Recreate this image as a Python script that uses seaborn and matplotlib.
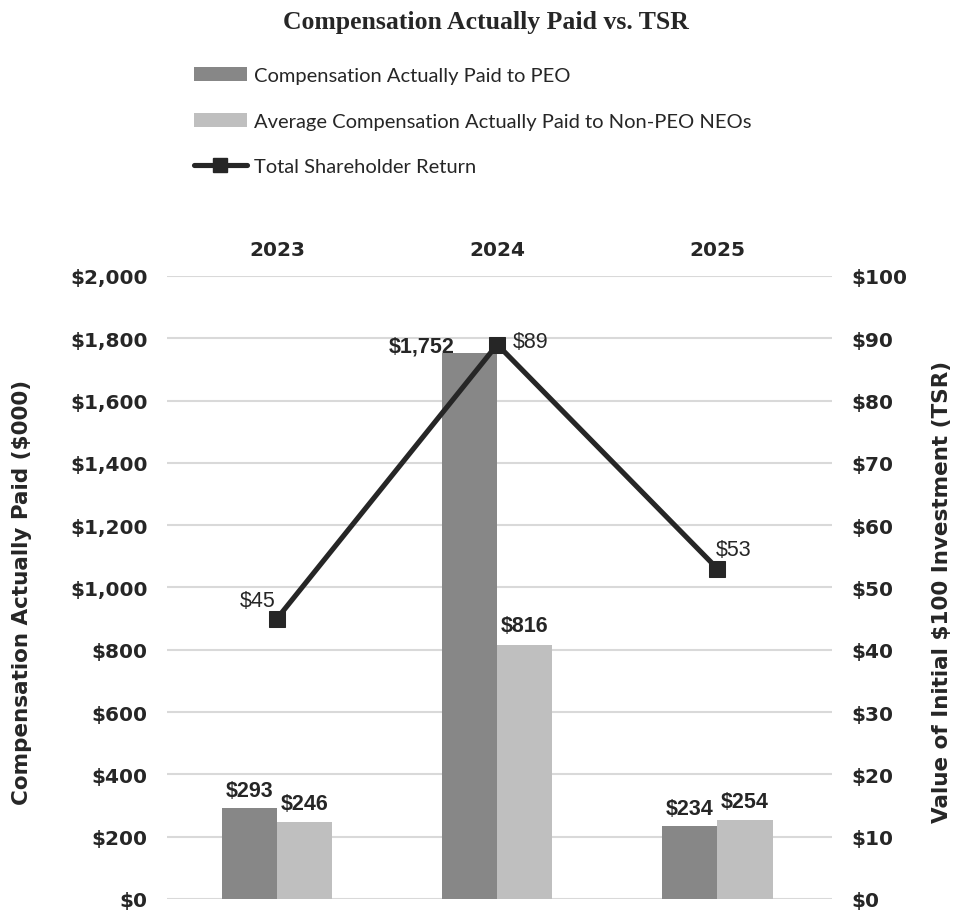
import numpy as np
import pandas as pd
import seaborn as sns
import matplotlib.pyplot as plt
from matplotlib.patches import Patch
from matplotlib.lines import Line2D

# Data
years = ["2023", "2024", "2025"]
peo_cap = [293, 1752, 234]
neo_cap = [246, 816, 254]
tsr = [45, 89, 53]

series_names = ["Compensation Actually Paid to PEO",
                "Average Compensation Actually Paid to Non-PEO NEOs"]
left_ticks = [0, 200, 400, 600, 800, 1000, 1200, 1400, 1600, 1800, 2000]
right_ticks = [0, 10, 20, 30, 40, 50, 60, 70, 80, 90, 100]

sns.set_theme(style="white")
plt.rcParams["font.family"] = ["DejaVu Sans"]

bars_df = pd.DataFrame({
    "year": years * 2,
    "series": [series_names[0]] * 3 + [series_names[1]] * 3,
    "value": peo_cap + neo_cap,
})

fig = plt.figure(figsize=(9.59, 9.12), dpi=100)
ax = fig.add_axes([0.174, 0.0132, 0.6936, 0.6831])

sns.barplot(data=bars_df, x="year", y="value", hue="series", order=years,
            hue_order=series_names, palette=["#878787", "#bfbfbf"],
            width=0.5, saturation=1, linewidth=0, legend=False, ax=ax)

ax.set_ylim(0, 2000)
ax.set_xlim(-0.5, 2.52)
ax.set_yticks(left_ticks)
ax.set_yticklabels([f"${v:,}" for v in left_ticks], fontweight="bold", fontsize=14.5)
ax.yaxis.grid(True, color="#d9d9d9", linewidth=1.5)
ax.set_axisbelow(True)
ax.xaxis.tick_top()
ax.set_xticks(range(len(years)))
ax.set_xticklabels(years, fontweight="bold", fontsize=14.5)
ax.tick_params(axis="x", length=0, pad=12)
ax.tick_params(axis="y", length=0, pad=14)
ax.set_xlabel("")
ax.set_ylabel("")
for s in ax.spines.values():
    s.set_visible(False)

label_font = {"family": "Liberation Sans", "size": 15.5}

# bar value labels
peo_bars = ax.containers[0]
neo_bars = ax.containers[1]
for b, v in zip(peo_bars, peo_cap):
    cx = b.get_x() + b.get_width() / 2
    if v > 1000:
        ax.annotate(f"${v:,}", (cx, v), xytext=(-11, -2), textcoords="offset points",
                    ha="right", va="bottom", fontweight="bold", **label_font)
    else:
        ax.annotate(f"${v:,}", (cx, v), xytext=(0, 5), textcoords="offset points",
                    ha="center", va="bottom", fontweight="bold", **label_font)
for b, v in zip(neo_bars, neo_cap):
    cx = b.get_x() + b.get_width() / 2
    ax.annotate(f"${v:,}", (cx, v), xytext=(0, 6), textcoords="offset points",
                ha="center", va="bottom", fontweight="bold", **label_font)

# TSR line on the right axis
ax2 = ax.twinx()
tsr_df = pd.DataFrame({"pos": np.arange(len(years)), "tsr": tsr})
sns.lineplot(data=tsr_df, x="pos", y="tsr", color="#262626", linewidth=3.7,
             marker="s", markersize=11.5, markeredgecolor="#262626", ax=ax2)
ax2.set_ylim(0, 100)
ax2.set_yticks(right_ticks)
ax2.set_yticklabels([f"${v}" for v in right_ticks], fontweight="bold", fontsize=14.5)
ax2.tick_params(axis="y", length=0, pad=14)
ax2.set_ylabel("")
ax2.set_xlabel("")
ax2.grid(False)
for s in ax2.spines.values():
    s.set_visible(False)

tsr_offsets = [(-14, 13, "center"), (11.5, 2, "left"), (11.5, 14, "center")]
for i, v in enumerate(tsr):
    dx, dy, ha = tsr_offsets[i]
    ax2.annotate(f"${v}", (i, v), xytext=(dx, dy), textcoords="offset points",
                 ha=ha, va="center", color="#262626", **label_font)

# axis titles
mid_y = 1 - 592 / 912
fig.text(22 / 959, mid_y, "Compensation Actually Paid ($000)", rotation=90,
         ha="center", va="center", fontsize=15.5, fontweight="bold", color="#262626")
fig.text(942 / 959, mid_y, "Value of Initial $100 Investment (TSR)", rotation=90,
         ha="center", va="center", fontsize=15.5, fontweight="bold", color="#262626")

fig.text(0.507, 1 - 22 / 912, "Compensation Actually Paid vs. TSR", ha="center",
         va="center", fontsize=18.5, fontweight="bold", family="Liberation Serif")

handles = [
    Patch(facecolor="#878787", edgecolor="none"),
    Patch(facecolor="#bfbfbf", edgecolor="none"),
    Line2D([0], [0], color="#262626", linewidth=3.7, marker="s", markersize=10),
]
labels = series_names + ["Total Shareholder Return"]
fig.legend(handles, labels, loc="upper left", bbox_to_anchor=(0.183, 0.945),
           frameon=False, prop={"family": "Lato", "size": 14.5},
           handlelength=2.65, handletextpad=0.35, labelspacing=1.4)

fig.savefig("out.png", dpi=100)
